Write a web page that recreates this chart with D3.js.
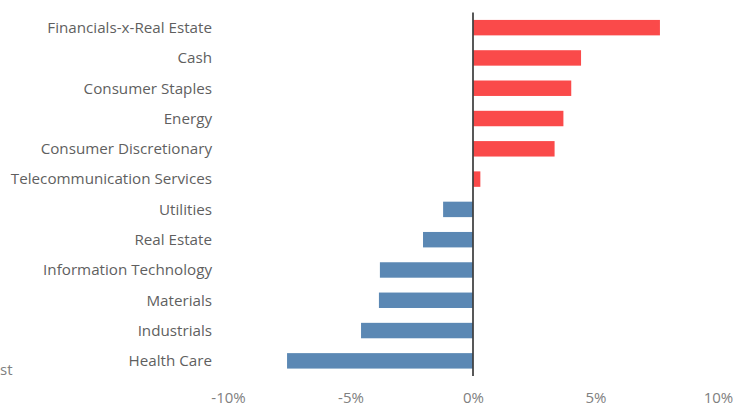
<!DOCTYPE html>
<html>
<head>
<meta charset="utf-8">
<script src="https://cdn.jsdelivr.net/npm/d3@7"></script>
<style>
  body { margin: 0; background: #fff; }
  svg { display: block; font-family: "Open Sans", "Noto Sans", sans-serif; }
</style>
</head>
<body>
<svg id="chart"></svg>
<script>
// data
const sectors = [
    "Financials-x-Real Estate", "Cash", "Consumer Staples", "Energy",
    "Consumer Discretionary", "Telecommunication Services", "Utilities",
    "Real Estate", "Information Technology", "Materials", "Industrials", "Health Care"
];
const weights = [7.63, 4.41, 4.01, 3.69, 3.33, 0.30, -1.22, -2.04, -3.80, -3.84, -4.57, -7.59];
const tickValues = [-10, -5, 0, 5, 10];

const W = 745, H = 406;

const svg = d3.select("#chart")
    .attr("width", W)
    .attr("height", H);

const x = d3.scaleLinear()
    .domain([-10, 10])
    .range([228, 718]);

const y = d3.scaleBand()
    .domain(sectors)
    .range([12.5, 376])
    .paddingInner(0.49)
    .paddingOuter(0.245);

const rows = sectors.map((s, i) => ({ name: s, value: weights[i] }));

// bars
svg.append("g")
    .selectAll("rect")
    .data(rows)
    .join("rect")
    .attr("x", d => x(Math.min(0, d.value)))
    .attr("y", d => y(d.name))
    .attr("width", d => Math.abs(x(d.value) - x(0)))
    .attr("height", y.bandwidth())
    .attr("fill", d => d.value >= 0 ? "#fa4a4a" : "#5b88b4");

// category labels
svg.append("g")
    .selectAll("text")
    .data(rows)
    .join("text")
    .attr("x", 212)
    .attr("y", d => y(d.name) + y.bandwidth() / 2)
    .attr("dy", "0.35em")
    .attr("text-anchor", "end")
    .attr("fill", "#5f5f5f")
    .style("font-size", "15.2px")
    .text(d => d.name);

// zero line
svg.append("line")
    .attr("x1", x(0)).attr("x2", x(0))
    .attr("y1", 12.5).attr("y2", 376)
    .attr("stroke", "#404040")
    .attr("stroke-width", 1.75);

// x axis labels (no axis line)
const xAxis = svg.append("g")
    .attr("transform", `translate(0,${H - 17})`)
    .call(d3.axisBottom(x).tickValues(tickValues).tickSize(0).tickFormat(d => d + "%"));
xAxis.select(".domain").remove();
xAxis.selectAll("text")
    .attr("fill", "#808080")
    .style("font-size", "15px")
    .style("font-family", "'Open Sans', 'Noto Sans', sans-serif");

// leftover text fragment at the left edge
svg.append("text")
    .attr("x", 0)
    .attr("y", 375)
    .attr("text-anchor", "start")
    .attr("fill", "#808080")
    .style("font-size", "15px")
    .text("st");
</script>
</body>
</html>
